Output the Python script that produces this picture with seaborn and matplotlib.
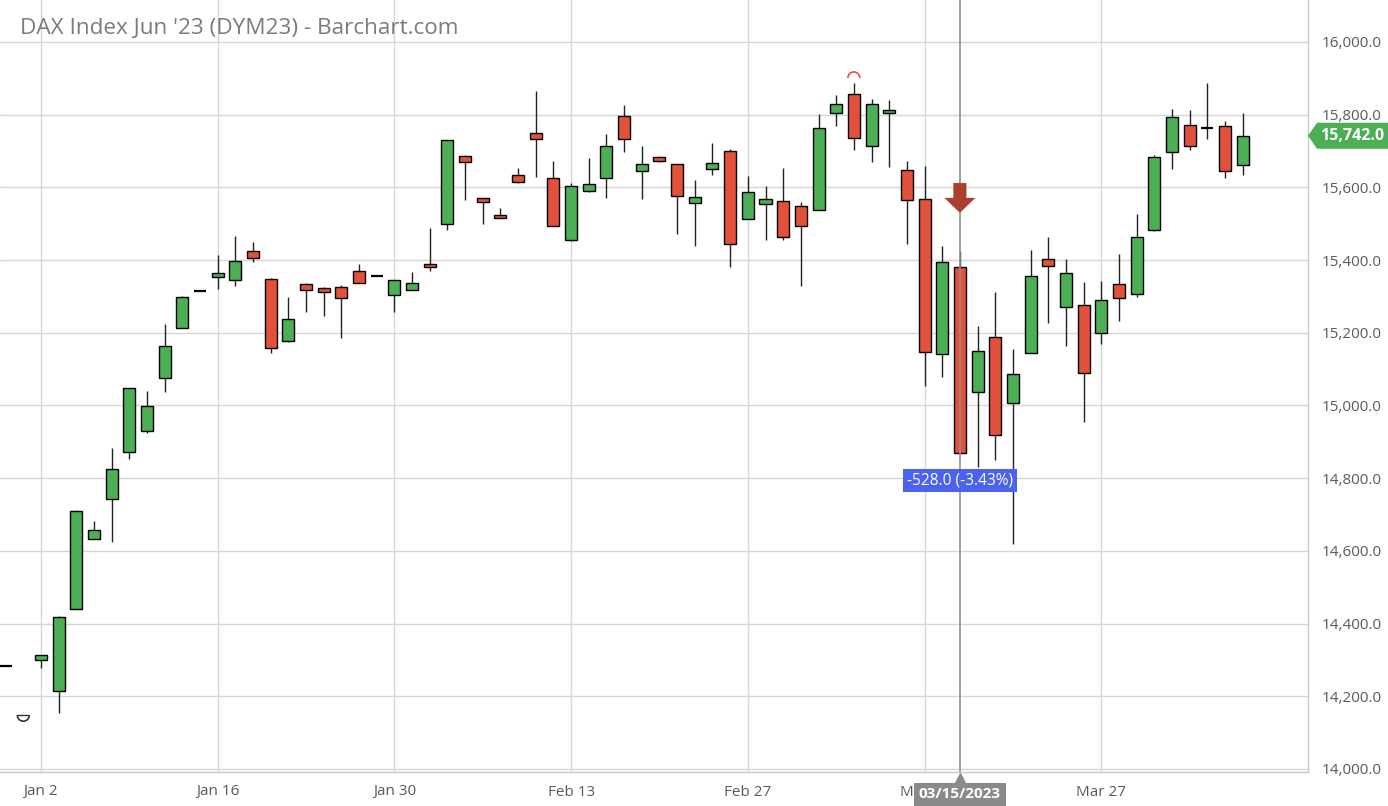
import numpy as np
import pandas as pd
import matplotlib
matplotlib.use('Agg')
import matplotlib.pyplot as plt
import matplotlib.transforms as mtransforms
from matplotlib.patches import Arc, Polygon
import seaborn as sns

# ---- data (daily OHLC, DAX Jun '23 futures) ----
dates = pd.bdate_range('2022-12-29', '2023-04-06')

opens = [14283, np.nan,
         14300, 14215, 14441, 14633, 14742, 14871, 14930, 15076, 15214, 15315,
         15353, 15344, 15426, 15348, 15177, 15335, 15324, 15325, 15369, 15356,
         15305, 15319, 15389, 15498, 15687, 15570, 15525, 15634, 15750, 15627,
         15454, 15589, 15625, 15797, 15646, 15684, 15664, 15558, 15650, 15701,
         15514, 15553, 15563, 15548, 15539, 15804, 15857, 15713, 15806, 15649,
         15567, 15143, 15380, 15036, 15188, 15006, 15145, 15404, 15270, 15277,
         15199, 15334, 15306, 15482, 15698, 15771, 15763, 15768, 15661]
highs = [14283, np.nan,
         14314, 14420, 14713, 14682, 14882, 15048, 15040, 15223, 15301, 15316,
         15414, 15466, 15449, 15350, 15298, 15336, 15325, 15332, 15389, 15356,
         15346, 15367, 15488, 15730, 15688, 15571, 15542, 15654, 15865, 15672,
         15612, 15681, 15748, 15826, 15715, 15685, 15665, 15619, 15722, 15705,
         15630, 15604, 15654, 15561, 15803, 15853, 15888, 15844, 15841, 15672,
         15658, 15439, 15424, 15219, 15313, 15155, 15427, 15463, 15402, 15340,
         15342, 15417, 15527, 15690, 15815, 15812, 15886, 15783, 15806]
lows = [14283, np.nan,
        14277, 14155, 14440, 14632, 14624, 14853, 14925, 15036, 15213, 15314,
        15320, 15329, 15394, 15144, 15176, 15258, 15245, 15186, 15336, 15356,
        15256, 15318, 15371, 15483, 15564, 15499, 15516, 15613, 15628, 15494,
        15453, 15588, 15571, 15696, 15568, 15671, 15472, 15440, 15635, 15381,
        15513, 15456, 15456, 15330, 15538, 15769, 15704, 15670, 15656, 15443,
        15053, 15077, 14868, 14830, 14850, 14618, 15144, 15228, 15164, 14955,
        15168, 15232, 15298, 15481, 15651, 15703, 15734, 15625, 15634]
closes = [14283, np.nan,
          14313, 14418, 14711, 14657, 14826, 15047, 14998, 15165, 15299, 15315,
          15364, 15397, 15407, 15157, 15239, 15319, 15313, 15295, 15337, 15356,
          15345, 15336, 15380, 15729, 15671, 15559, 15517, 15614, 15734, 15495,
          15603, 15610, 15715, 15734, 15664, 15672, 15577, 15573, 15667, 15445,
          15586, 15568, 15464, 15494, 15764, 15829, 15737, 15829, 15814, 15564,
          15146, 15396, 14868, 15149, 14920, 15087, 15357, 15384, 15365, 15088,
          15289, 15297, 15463, 15683, 15793, 15715, 15763, 15646, 15742]

tick_dates = ['2023-01-02', '2023-01-16', '2023-01-30', '2023-02-13',
              '2023-02-27', '2023-03-13', '2023-03-27']
tick_labels = ['Jan 2', 'Jan 16', 'Jan 30', 'Feb 13', 'Feb 27', 'Mar 13', 'Mar 27']
price_ticks = np.arange(14000, 16001, 200)

cursor_date = '2023-03-15'
low_marker_date = '2022-12-30'
low_marker_price = 14148

GREEN = '#4caf55'
RED = '#e2513a'

# ---- style ----
sns.set_theme(style='whitegrid')
plt.rcParams['font.family'] = ['Open Sans', 'DejaVu Sans']

df = pd.DataFrame({'open': opens, 'high': highs, 'low': lows, 'close': closes},
                  index=np.arange(len(dates)))
df['date'] = dates
df = df.dropna()

fig = plt.figure(figsize=(13.88, 8.06), dpi=100)
fig.patch.set_facecolor('white')
ax = fig.add_axes([0, 34 / 806, 1308 / 1388, 772 / 806])
ax.set_facecolor('white')

W = 0.68
up = df[df.close > df.open]
down = df[df.close < df.open]
flat = df[df.close == df.open]

ax.vlines(df.index, df.low, df.high, color='#222222', lw=1.0, zorder=2)
ax.bar(up.index, up.close - up.open, bottom=up.open, width=W, color=GREEN,
       edgecolor='black', linewidth=1.0, zorder=3)
ax.bar(down.index, down.open - down.close, bottom=down.close, width=W, color=RED,
       edgecolor='black', linewidth=1.0, zorder=3)
ax.hlines(flat.close, flat.index - W / 2, flat.index + W / 2, color='black',
          lw=1.6, zorder=3)

# axes limits / ticks
pos = {d: i for i, d in enumerate(dates)}
ax.set_xlim(-0.32, 73.7)
ax.set_ylim(13991.7, 16115.5)
ax.set_xticks([pos[pd.Timestamp(d)] for d in tick_dates])
ax.set_xticklabels(tick_labels)
ax.set_yticks(price_ticks)
ax.set_yticklabels([f'{v:,.1f}' for v in price_ticks])
ax.yaxis.tick_right()
ax.tick_params(axis='both', length=0, labelsize=11, colors='#5a5a5a')
ax.tick_params(axis='y', pad=10)
ax.tick_params(axis='x', pad=9)
ax.grid(True, color='#d6d6d6', lw=1.0)
for side in ['top', 'left']:
    ax.spines[side].set_visible(False)
for side in ['right', 'bottom']:
    ax.spines[side].set_color('#c8c8c8')
    ax.spines[side].set_linewidth(1.0)

# title
fig.text(20 / 1388, 1 - 28 / 806, "DAX Index Jun '23 (DYM23) - Barchart.com",
         fontsize=16.2, color='#7b7b7b', va='center', ha='left')

# highest-high / lowest-low markers
hi_idx = df.high.idxmax()
ax.add_patch(Arc((hi_idx, df.high[hi_idx] + 13), W, 33, theta1=0, theta2=180,
                 color=RED, lw=1.2, zorder=4))
lx = pos[pd.Timestamp(low_marker_date)]
ax.add_patch(Arc((lx, low_marker_price), W, 33, theta1=180, theta2=360,
                 color='#333333', lw=1.2, zorder=4))
ax.hlines(low_marker_price, lx - W / 2, lx + W / 2, color='#333333', lw=1.0, zorder=4)

# crosshair on cursor day
cx = pos[pd.Timestamp(cursor_date)]
ax.axvline(cx, color='#8f8f8f', lw=1.2, zorder=5)

# red down arrow above the cursor candle
ax.arrow(cx, df.high[cx] + 188, 0, -82, width=0.74, head_width=1.75,
         head_length=41, length_includes_head=True, color='#ad3f2f',
         lw=0, zorder=6)

# change label below cursor candle
chg = df.close[cx] - df.close[cx - 1]
pct = chg / df.close[cx - 1] * 100
ax.annotate(f'{chg:.1f} ({pct:.2f}%)', xy=(cx, df.close[cx]), xytext=(0, -27),
            textcoords='offset pixels', ha='center', va='center', color='white',
            fontsize=11.2, zorder=7,
            bbox=dict(boxstyle='square,pad=0.25', fc='#4a62ef', ec='none'))

# date label on x-axis
blend = mtransforms.blended_transform_factory(ax.transData, ax.transAxes)
ax.plot([cx], [-0.009], marker='^', ms=9, color='#8a8a8a', transform=blend,
        clip_on=False, zorder=8)
ax.text(cx, -0.029, pd.Timestamp(cursor_date).strftime('%m/%d/%Y'),
        transform=blend, ha='center', va='center', color='white', fontsize=11,
        fontweight='bold', zorder=9,
        bbox=dict(boxstyle='square,pad=0.3', fc='#8a8a8a', ec='none'))

# last price tag
last = df.close.iloc[-1]
yc = ax.transData.transform((0, last))[1]
fw, fh = 1388.0, 806.0
tag = [(1308, yc), (1317, yc + 13), (1388, yc + 13), (1388, yc - 13), (1317, yc - 13)]
fig.patches.append(Polygon([(px / fw, py / fh) for px, py in tag], closed=True,
                           fc='#4caf55', ec='none', transform=fig.transFigure))
fig.text(1352 / fw, yc / fh, f'{last:,.1f}', ha='center', va='center',
         color='white', fontsize=11.5, fontweight='bold')

fig.savefig('out.png', dpi=100, facecolor='white')
plt.close(fig)
